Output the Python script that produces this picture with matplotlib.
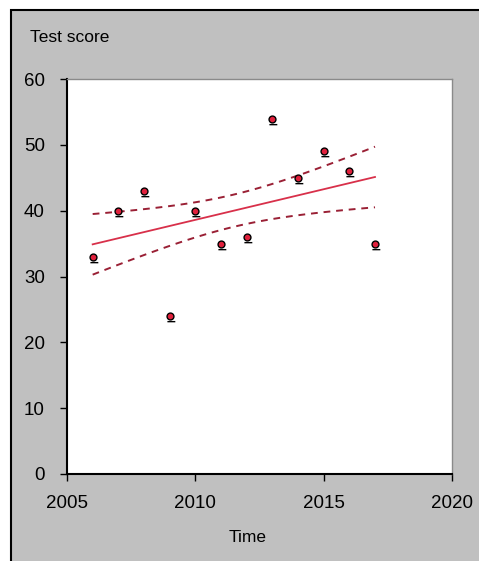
import numpy as np
import matplotlib.pyplot as plt
from matplotlib.path import Path
from matplotlib.patches import Rectangle

plt.rcParams['font.family'] = ['Liberation Sans', 'DejaVu Sans']

years = [2006, 2007, 2008, 2009, 2010, 2011, 2012, 2013, 2014, 2015, 2016, 2017]
scores = [33, 40, 43, 24, 40, 35, 36, 54, 45, 49, 46, 35]
xticks = [2005, 2010, 2015, 2020]
yticks = [0, 10, 20, 30, 40, 50, 60]

x = np.array(years, dtype=float)
y = np.array(scores, dtype=float)

# least squares fit + band of about one standard error of the mean line
slope, icpt = np.polyfit(x, y, 1)
xf = np.linspace(x.min(), x.max(), 100)
yf = icpt + slope * xf
resid = y - (icpt + slope * x)
s = np.sqrt(np.sum(resid ** 2) / (len(x) - 2))
se = s * np.sqrt(1 / len(x) + (xf - x.mean()) ** 2 / np.sum((x - x.mean()) ** 2))
band = 1.1 * se

fig = plt.figure(figsize=(4.79, 5.61), dpi=100)
fig.patch.set_facecolor('white')
fig.patches.append(Rectangle((11 / 479, -0.05), 1.0, (561 - 10) / 561 + 0.05,
                             transform=fig.transFigure, facecolor='#c0c0c0',
                             edgecolor='black', linewidth=1.5, zorder=-5))

ax = fig.add_axes([67 / 479, 87 / 561, 385 / 479, 395 / 561])
ax.set_zorder(2)
ax.set_facecolor('white')

ax.plot(xf, yf, color='#d8304a', lw=1.3, zorder=2)
ax.plot(xf, yf + band, color='#9a2035', lw=1.4, ls=(0, (3.5, 3)), zorder=2)
ax.plot(xf, yf - band, color='#9a2035', lw=1.4, ls=(0, (3.5, 3)), zorder=2)

# red dot with a small bar under it
mk = Path.make_compound_path(Path.unit_circle(),
                             Path([(-0.9, -1.5), (1.4, -1.5)]))
ax.scatter(x, y, marker=mk, s=55, facecolor='#e0203c', edgecolor='black',
           linewidths=1.0, zorder=3)

ax.set_xlim(2005, 2020)
ax.set_ylim(0, 60)
ax.set_xticks(xticks)
ax.set_yticks(yticks)
ax.tick_params(labelsize=13.5, length=5, width=1, direction='out')
ax.tick_params(axis='y', pad=11)
ax.tick_params(axis='x', pad=10)

for side in ['left', 'bottom']:
    ax.spines[side].set_color('black')
    ax.spines[side].set_linewidth(1.5)
for side in ['top', 'right']:
    ax.spines[side].set_color('#8a8a8a')
    ax.spines[side].set_linewidth(1.0)

fig.text(30 / 479, 1 - 37 / 561, 'Test score', fontsize=12.5, ha='left', va='center')
fig.text(248 / 479, 1 - 538 / 561, 'Time', fontsize=12.5, ha='center', va='center')

fig.savefig('out.png', dpi=100)
